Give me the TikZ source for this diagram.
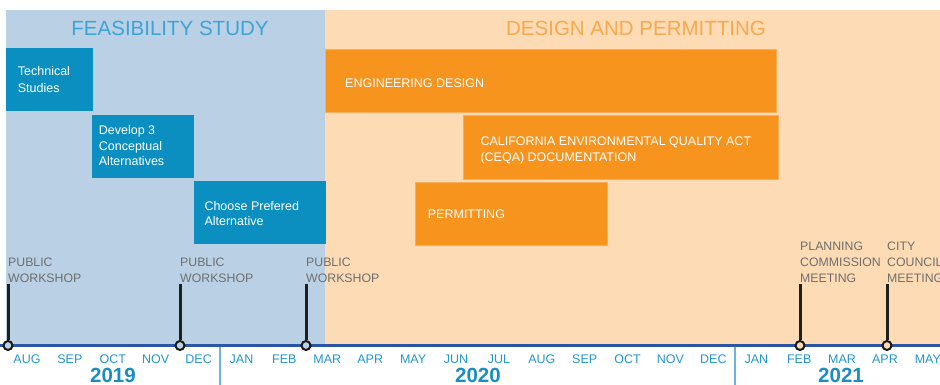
\documentclass[tikz,border=0pt]{standalone}
\usepackage{fontspec}
\setmainfont{Liberation Sans}
\definecolor{bgblue}{HTML}{BAD1E5}
\definecolor{bgorange}{HTML}{FDDBB5}
\definecolor{boxblue}{HTML}{0A8FC0}
\definecolor{boxorange}{HTML}{F7941E}
\definecolor{boxorangeedge}{HTML}{F9AE5E}
\definecolor{titleblue}{HTML}{3CA3D6}
\definecolor{titleorange}{HTML}{F8A94E}
\definecolor{monthblue}{HTML}{2196CC}
\definecolor{yearblue}{HTML}{1B8DC5}
\definecolor{axisblue}{HTML}{2B55A5}
\definecolor{seplight}{HTML}{6AB3DC}
\definecolor{msgray}{HTML}{6E6E6E}
\tikzset{
  bluebox/.style={anchor=north west, inner sep=0, outer sep=0, fill=boxblue},
  orangebox/.style={anchor=north west, inner sep=0, outer sep=0, fill=boxorange, draw=boxorangeedge, line width=0.7pt},
  boxtext/.style={anchor=base west, inner sep=0, text=white, font=\fontsize{12.5}{16}\selectfont},
  monthlbl/.style={anchor=base, inner sep=0, text=monthblue, font=\fontsize{12.5}{15}\selectfont},
  yearlbl/.style={anchor=base, inner sep=0, text=yearblue, font=\fontsize{20.5}{25}\selectfont\bfseries},
  mslabel/.style={anchor=base west, inner sep=0, text=msgray, font=\fontsize{12.3}{16}\selectfont},
  phase/.style={anchor=base, inner sep=0, font=\fontsize{20.5}{24}\selectfont},
  msdot/.style={circle, draw=black!90, line width=2pt, minimum size=9pt, inner sep=0},
  msline/.style={draw=black!88, line width=3pt},
}
\begin{document}
\begin{tikzpicture}[x=1pt,y=-1pt]
\useasboundingbox (0,0) rectangle (940,385);
% backgrounds
\fill[bgblue] (6,10) rectangle (325,346);
\fill[bgorange] (325,10) rectangle (940,346);
% phase titles
\node[phase, text=titleblue] (ttlfeas) at (170,36) {FEASIBILITY STUDY};
\node[phase, text=titleorange] (ttldes) at (636,36) {DESIGN AND PERMITTING};
% blue boxes
\node[bluebox, minimum width=86.5pt, minimum height=63.5pt] (bts) at (6,48) {};
\node[boxtext] (tts1) at (17.7,76) {Technical};
\node[boxtext] (tts2) at (17.7,92.5) {Studies};
\node[bluebox, minimum width=101.8pt, minimum height=63.6pt] (bdev) at (92,114.7) {};
\node[boxtext] (tdev1) at (98.7,135) {Develop 3};
\node[boxtext] (tdev2) at (98.7,150.5) {Conceptual};
\node[boxtext] (tdev3) at (98.7,166) {Alternatives};
\node[bluebox, minimum width=132pt, minimum height=63.3pt] (bch) at (193.7,180.7) {};
\node[boxtext] (tch1) at (204.3,210) {Choose Prefered};
\node[boxtext] (tch2) at (204.3,225.5) {Alternative};
% orange boxes
\node[orangebox, minimum width=451pt, minimum height=63.3pt] (beng) at (325.5,49) {};
\node[boxtext] (teng) at (345,87.3) {ENGINEERING DESIGN};
\node[orangebox, minimum width=315pt, minimum height=63.7pt] (bceqa) at (463.3,115.3) {};
\node[boxtext] (tceqa1) at (480.3,145.7) {CALIFORNIA ENVIRONMENTAL QUALITY ACT};
\node[boxtext] (tceqa2) at (480.3,161.2) {(CEQA) DOCUMENTATION};
\node[orangebox, minimum width=192pt, minimum height=63.7pt] (bper) at (415,182) {};
\node[boxtext] (tper) at (427.7,218.3) {PERMITTING};
% axis
\coordinate (axl) at (0,345.5);
\coordinate (axr) at (940,345.5);
\draw[axisblue, line width=3pt] (axl) -- (axr);
\coordinate (sepa1) at (220,347);
\coordinate (sepa2) at (220,385);
\coordinate (sepb1) at (735,347);
\coordinate (sepb2) at (735,385);
\draw[seplight, line width=1.4pt] (sepa1) -- (sepa2);
\draw[seplight, line width=1.4pt] (sepb1) -- (sepb2);
% months
\foreach \m [count=\i from 0] in {AUG,SEP,OCT,NOV,DEC,JAN,FEB,MAR,APR,MAY,JUN,JUL,AUG,SEP,OCT,NOV,DEC,JAN,FEB,MAR,APR,MAY}
  \node[monthlbl] (mon\i) at ({27+42.9*\i},363) {\m};
% years
\node[yearlbl] (y2019) at (113,382.6) {2019};
\node[yearlbl] (y2020) at (478,382.6) {2020};
\node[yearlbl] (y2021) at (841,382.6) {2021};
% milestones
\node[msdot, fill=bgblue] (ms1) at (8,345.5) {};
\node[msdot, fill=bgblue] (ms2) at (180,345.5) {};
\node[msdot, fill=bgblue] (ms3) at (306,345.5) {};
\node[msdot, fill=bgorange] (ms4) at (800,345.5) {};
\node[msdot, fill=bgorange] (ms5) at (887,345.5) {};
\coordinate (mt1) at (8,284);
\coordinate (mt2) at (180,284);
\coordinate (mt3) at (306,284);
\coordinate (mt4) at (800,284);
\coordinate (mt5) at (887,284);
\foreach \k in {1,...,5} \draw[msline] (ms\k.north) -- (mt\k);
\node[mslabel] (ml1a) at (8,266) {PUBLIC};
\node[mslabel] (ml1b) at (8,282) {WORKSHOP};
\node[mslabel] (ml2a) at (180,266) {PUBLIC};
\node[mslabel] (ml2b) at (180,282) {WORKSHOP};
\node[mslabel] (ml3a) at (306,266) {PUBLIC};
\node[mslabel] (ml3b) at (306,282) {WORKSHOP};
\node[mslabel] (ml4a) at (800,250) {PLANNING};
\node[mslabel] (ml4b) at (800,266) {COMMISSION};
\node[mslabel] (ml4c) at (800,282) {MEETING};
\node[mslabel] (ml5a) at (887,250) {CITY};
\node[mslabel] (ml5b) at (887,266) {COUNCIL};
\node[mslabel] (ml5c) at (887,282) {MEETING};
\end{tikzpicture}
\end{document}
